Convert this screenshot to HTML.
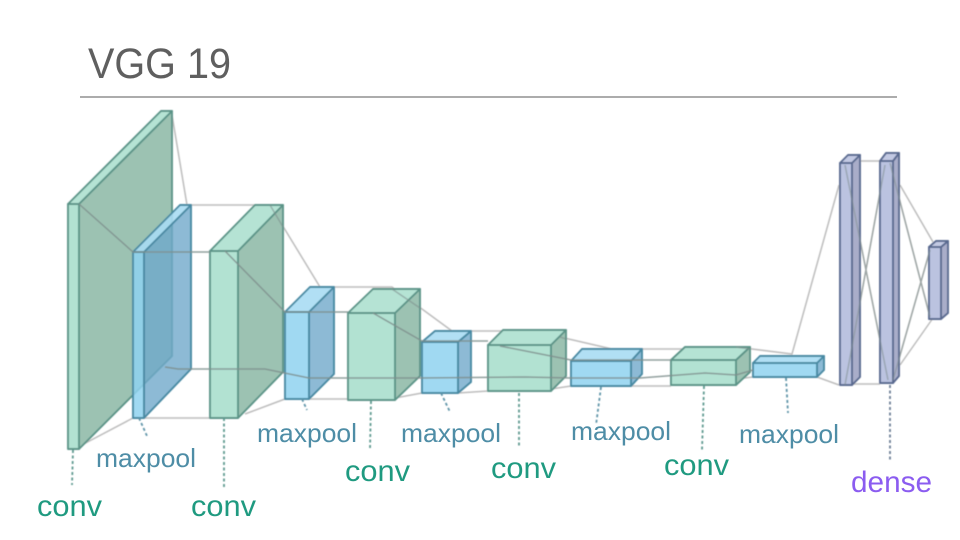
<!DOCTYPE html>
<html lang="en">
<head>
<meta charset="utf-8">
<title>VGG 19</title>
<style>
html,body{margin:0;padding:0;background:#fff;width:960px;height:540px;overflow:hidden}
svg{display:block}
.link{stroke:#bdbdbd;stroke-width:1.5;fill:none}
.link-dark{stroke:#7f8f8d;stroke-width:1.5;fill:none}
.dash{stroke-width:1.8;stroke-dasharray:3 2.5;fill:none}
.conv polygon{stroke:#5c9488;stroke-width:1.9;stroke-linejoin:round}
.conv .front{fill:#aee0d0;fill-opacity:.95}
.conv .top{fill:#b5e3d4}
.conv .side{fill:#9cc2b2}
.pool polygon{stroke:#4a8aa3;stroke-width:1.9;stroke-linejoin:round}
.pool .front{fill:#8fd2f0;fill-opacity:.85}
.pool .top{fill:#a9dcf3;fill-opacity:.9}
.pool .side{fill:#6fa9cb;fill-opacity:.8}
.dense polygon{stroke:#5a6a90;stroke-width:1.9;stroke-linejoin:round}
.dense .front{fill:#b4bddd;fill-opacity:.9}
.dense .top{fill:#c2c9e3}
.dense .side{fill:#a9adc9}
text{font-family:"Liberation Sans",sans-serif}
.lp{font-size:26px;fill:#4e8da6}
.lc{font-size:30px;fill:#1f9a80}
</style>
</head>
<body>
<svg xmlns="http://www.w3.org/2000/svg" width="960" height="540" viewBox="0 0 960 540">
<text x="88" y="78" font-size="43" fill="#5f5f5f" textLength="143" lengthAdjust="spacingAndGlyphs">VGG 19</text>
<line x1="80" y1="97" x2="897" y2="97" stroke="#7a7a7a" stroke-width="1.3"/>

<g filter="url(#soft)">
<defs><filter id="soft" x="-5%" y="-5%" width="110%" height="110%"><feGaussianBlur stdDeviation="0.5"/></filter></defs>

<g>
<path class="link" d="M172 115L187 205H270M270 205L320 287H392L452 331H510M560 337L612 349H690M736 347L792 354L839 185"/>
<path class="link" d="M817 377L839 385M852 161H880M852 384H880M845 165L888 380M885 165L845 385M900 185L933 242M890 163L930 317M930 250L893 380M933 318L900 365"/>
<path class="link" d="M78 447L133 418M144 418H210M245 414L285 399M309 399H348M395 398L422 393M458 393L488 391M551 389L571 386M631 386H671M736 379L753 377"/>
</g>

<g class="conv">
<polygon class="side" points="79,204 172,111 172,356 79,449"/>
<polygon class="top" points="68,204 161,111 172,111 79,204"/>
<polygon class="front" points="68,204 79,204 79,449 68,449"/>
</g>
<g class="pool">
<polygon class="side" points="144,252 191,205 191,369 144,418"/>
<polygon class="top" points="133,252 180,205 191,205 144,252"/>
<polygon class="front" points="133,252 144,252 144,418 133,418"/>
</g>
<g class="conv">
<polygon class="side" points="238,251 283,205 283,372 238,418"/>
<polygon class="top" points="210,251 255,205 283,205 238,251"/>
<polygon class="front" points="210,251 238,251 238,418 210,418"/>
</g>
<g class="pool">
<polygon class="side" points="309,312 334,287 334,374 309,399"/>
<polygon class="top" points="285,312 310,287 334,287 309,312"/>
<polygon class="front" points="285,312 309,312 309,399 285,399"/>
</g>
<g class="conv">
<polygon class="side" points="395,313 420,289 420,376 395,400"/>
<polygon class="top" points="348,313 373,289 420,289 395,313"/>
<polygon class="front" points="348,313 395,313 395,400 348,400"/>
</g>
<g class="pool">
<polygon class="side" points="458,342 471,331 471,382 458,393"/>
<polygon class="top" points="422,342 435,331 471,331 458,342"/>
<polygon class="front" points="422,342 458,342 458,393 422,393"/>
</g>
<g class="conv">
<polygon class="side" points="551,345 566,330 566,376 551,391"/>
<polygon class="top" points="488,345 503,330 566,330 551,345"/>
<polygon class="front" points="488,345 551,345 551,391 488,391"/>
</g>
<g class="pool">
<polygon class="side" points="631,361 642,349 642,374 631,386"/>
<polygon class="top" points="571,361 582,349 642,349 631,361"/>
<polygon class="front" points="571,361 631,361 631,386 571,386"/>
</g>
<g class="conv">
<polygon class="side" points="736,360 750,347 750,372 736,385"/>
<polygon class="top" points="671,360 685,347 750,347 736,360"/>
<polygon class="front" points="671,360 736,360 736,385 671,385"/>
</g>
<g class="pool">
<polygon class="side" points="817,363 824,356 824,370 817,377"/>
<polygon class="top" points="753,363 760,356 824,356 817,363"/>
<polygon class="front" points="753,363 817,363 817,377 753,377"/>
</g>
<g class="dense">
<polygon class="side" points="852,163 860,155 860,377 852,385"/>
<polygon class="top" points="840,163 848,155 860,155 852,163"/>
<polygon class="front" points="840,163 852,163 852,385 840,385"/>
</g>
<g class="dense">
<polygon class="side" points="893,161 899,153 899,376 893,383"/>
<polygon class="top" points="880,161 886,153 899,153 893,161"/>
<polygon class="front" points="880,161 893,161 893,383 880,383"/>
</g>
<g class="dense">
<polygon class="side" points="941,247 948,241 948,313 941,319"/>
<polygon class="top" points="929,247 936,241 948,241 941,247"/>
<polygon class="front" points="929,247 941,247 941,319 929,319"/>
</g>

<g>
<path class="link-dark" stroke-opacity=".85" d="M79 204L133 252H210M225 251L285 312H348M373 313L422 341H488M500 346L571 360H671"/>
<path class="link-dark" stroke-opacity=".85" d="M165 367L178 369H265L309 378H420L525 377L571 378H640L705 373L736 375L753 370"/>
<path class="link-dark" stroke-opacity=".6" d="M270 205L283 227M392 289L420 308M560 337L566 339M736 347L750 349"/>
<path class="link-dark" stroke-opacity=".5" d="M845 165L888 380M885 165L845 385M890 163L930 317M930 250L893 380"/>
</g>

<g>
<path class="dash" stroke="#5f9a90" d="M73 450L72 485M224 418V487M371 401L370 450M519 393V448M704 386L702 450"/>
<path class="dash" stroke="#5f94a8" d="M139 418L147 436M302 399L307 410M441 393L450 412M601 387L596 425M786 378L788 413"/>
<path class="dash" stroke="#6d7f96" d="M890 385V460"/>
</g>
</g>

<text class="lp" x="96" y="467" textLength="100" lengthAdjust="spacingAndGlyphs">maxpool</text>
<text class="lp" x="257" y="442" textLength="100" lengthAdjust="spacingAndGlyphs">maxpool</text>
<text class="lp" x="401" y="442" textLength="100" lengthAdjust="spacingAndGlyphs">maxpool</text>
<text class="lp" x="571" y="440" textLength="100" lengthAdjust="spacingAndGlyphs">maxpool</text>
<text class="lp" x="739" y="443" textLength="100" lengthAdjust="spacingAndGlyphs">maxpool</text>
<text class="lc" x="37" y="516" textLength="65" lengthAdjust="spacingAndGlyphs">conv</text>
<text class="lc" x="191" y="516" textLength="65" lengthAdjust="spacingAndGlyphs">conv</text>
<text class="lc" x="345" y="481" textLength="65" lengthAdjust="spacingAndGlyphs">conv</text>
<text class="lc" x="491" y="478" textLength="65" lengthAdjust="spacingAndGlyphs">conv</text>
<text class="lc" x="664" y="475" textLength="65" lengthAdjust="spacingAndGlyphs">conv</text>
<text x="851" y="492" font-size="30" fill="#8b5cf0" textLength="81" lengthAdjust="spacingAndGlyphs">dense</text>
</svg>
</body>
</html>
